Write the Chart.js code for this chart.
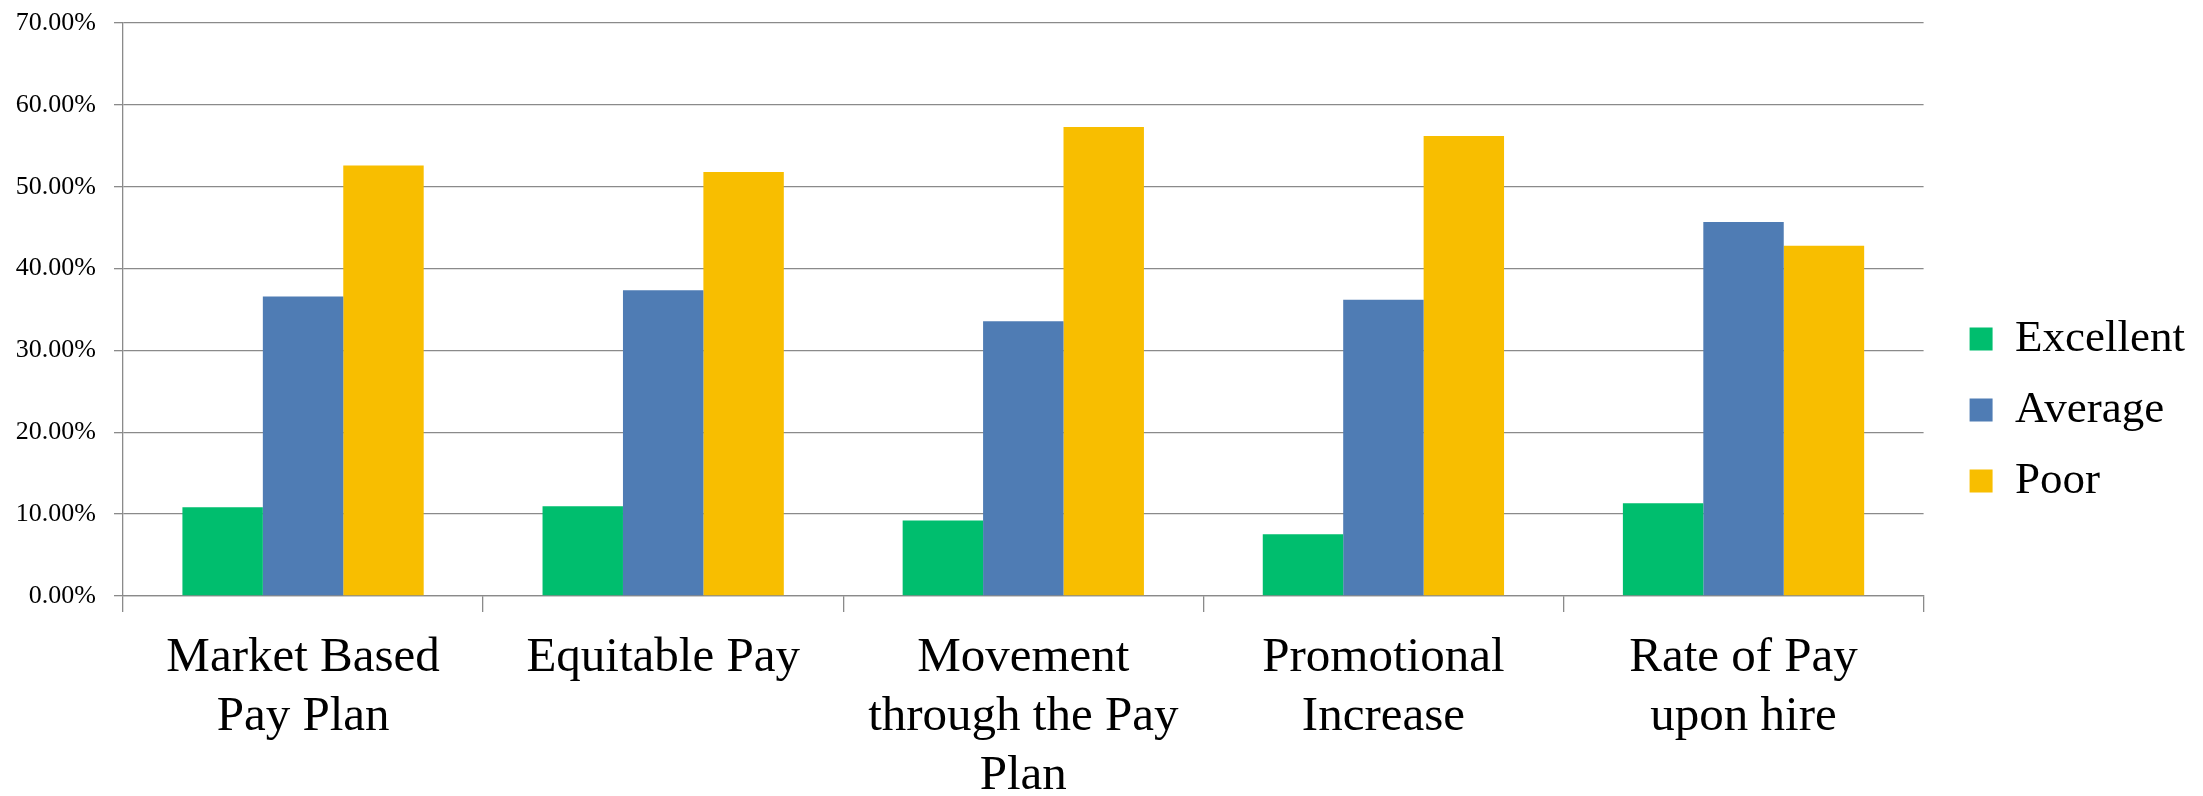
<!DOCTYPE html>
<html>
<head>
<meta charset="utf-8">
<script src="https://cdn.jsdelivr.net/npm/chart.js@4.4.1/dist/chart.umd.min.js"></script>
<style>
  html, body { margin: 0; padding: 0; background: #fff; }
  #wrap { width: 2203px; height: 796px; position: relative; }
</style>
</head>
<body>
<div id="wrap"><canvas id="payChart"></canvas></div>
<script>
// Categorias (etiquetas en varias lineas como en el original)
const categories = [
  ['Market Based', 'Pay Plan'],
  ['Equitable Pay'],
  ['Movement', 'through the Pay', 'Plan'],
  ['Promotional', 'Increase'],
  ['Rate of Pay', 'upon hire']
];

// Valores en porcentaje
const excellent = [10.84, 10.96, 9.21, 7.55, 11.33];
const average   = [36.6, 37.36, 33.57, 36.2, 45.7];
const poor      = [52.6, 51.8, 57.28, 56.2, 42.8];

const seriesNames = ['Excellent', 'Average', 'Poor'];
const seriesColors = ['#00be6e', '#4f7cb4', '#f8be00'];

// Eje Y
const yMin = 0, yMax = 70, yStep = 10;

const gridColor = '#8a8a8a';
const serif = "'Liberation Serif', 'DejaVu Serif', serif";

// ajusta la posicion de la leyenda
const legendShift = {
  id: 'legendShift',
  afterLayout(chart){
    const lg = chart.legend;
    if (!lg) return;
    lg.left += 20;
    lg.right += 20;
    lg.top += 12;
    lg.bottom += 12;
  }
};

const ctx = document.getElementById('payChart').getContext('2d');
const chart = new Chart(ctx, {
  type: 'bar',
  data: {
    labels: categories,
    datasets: [excellent, average, poor].map((vals, i) => ({
      label: seriesNames[i],
      data: vals,
      backgroundColor: seriesColors[i],
      borderWidth: 0,
      barPercentage: 1,
      categoryPercentage: 0.67
    }))
  },
  options: {
    responsive: true,
    maintainAspectRatio: false,
    devicePixelRatio: 1,
    animation: false,
    layout: { padding: { left: 15, top: 0, right: 28, bottom: 0 } },
    plugins: {
      tooltip: { enabled: false },
      legend: {
        position: 'right',
        align: 'center',
        labels: {
          boxWidth: 23,
          boxHeight: 23,
          padding: 26,
          color: '#000',
          font: { family: serif, size: 45 }
        }
      }
    },
    scales: {
      x: {
        offset: true,
        afterFit: s => { s.height = 200; },
        grid: {
          offset: true,
          drawOnChartArea: false,
          drawTicks: true,
          tickLength: 16,
          color: gridColor,
          lineWidth: 1.3
        },
        border: { color: gridColor, width: 1.3 },
        ticks: {
          color: '#000',
          maxRotation: 0,
          autoSkip: false,
          padding: 17,
          font: { family: serif, size: 49, lineHeight: 1.2 }
        }
      },
      y: {
        min: yMin,
        max: yMax,
        afterFit: s => { s.width = 108; s.paddingTop = 23; },
        grid: {
          color: gridColor,
          lineWidth: 1.3,
          tickLength: 9
        },
        border: { color: gridColor, width: 1.3 },
        ticks: {
          stepSize: yStep,
          color: '#000',
          padding: 18,
          font: { family: serif, size: 26 },
          callback: v => v.toFixed(2) + '%'
        }
      }
    }
  },
  plugins: [legendShift]
});
</script>
</body>
</html>
